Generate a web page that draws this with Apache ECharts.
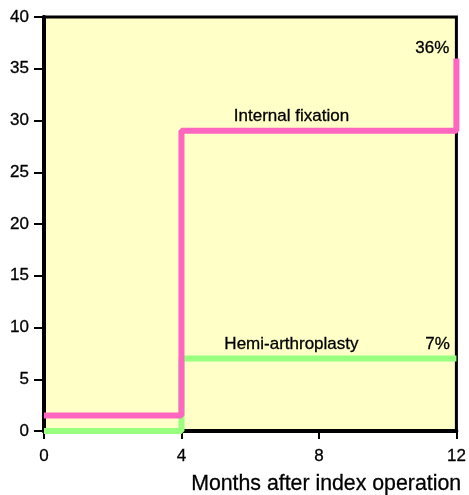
<!DOCTYPE html>
<html><head><meta charset="utf-8">
<script src="https://cdn.jsdelivr.net/npm/echarts@6/dist/echarts.min.js"></script>
<style>html,body{margin:0;padding:0;background:#fff}#c{width:469px;height:495px}</style>
</head><body><div id="c"></div>
<script>
const xTicks = [0, 4, 8, 12];
const yTicks = [0, 5, 10, 15, 20, 25, 30, 35, 40];
const fixMonths = [0, 4, 12];
const fixValues = [1.5, 29, 36];
const hemiMonths = [0, 4, 12];
const hemiValues = [0, 7, 7];
const xTitle = 'Months after index operation';
const fixLabel = 'Internal fixation';
const hemiLabel = 'Hemi-arthroplasty';
const fixEnd = '36%';
const hemiEnd = '7%';

const font = 'Liberation Sans, Arial, Helvetica, sans-serif';
const chart = echarts.init(document.getElementById('c'));
const labelStyle = {show: true, color: '#000', fontFamily: font, fontSize: 17, textBorderColor: '#000', textBorderWidth: 0.3};
const axisLab = {color: '#000', fontFamily: font, fontSize: 17, textBorderColor: '#000', textBorderWidth: 0.3};
chart.setOption({
  animation: false,
  grid: {left: 44, right: 9, top: 17, bottom: 64, show: true, backgroundColor: '#ffffc8', borderColor: '#000', borderWidth: 3},
  xAxis: {
    type: 'value', min: 0, max: 12, interval: 4,
    axisLine: {show: true, lineStyle: {color: '#000', width: 4}},
    axisTick: {show: true, length: 8, lineStyle: {color: '#000', width: 2}},
    axisLabel: Object.assign({margin: 17}, axisLab),
    splitLine: {show: false}
  },
  yAxis: {
    type: 'value', min: 0, max: 40, interval: 5,
    axisLine: {show: true, lineStyle: {color: '#000', width: 4}},
    axisTick: {show: true, length: 10, lineStyle: {color: '#000', width: 2}},
    axisLabel: Object.assign({margin: 15}, axisLab),
    splitLine: {show: false}
  },
  graphic: [{type: 'text', left: 191, top: 473, style: {text: xTitle, fill: '#000', font: '21.3px ' + font, stroke: '#000', lineWidth: 0.3}}],
  series: [
    {
      type: 'line', step: 'end', symbol: 'none', z: 3,
      data: hemiMonths.map((m, i) => [m, hemiValues[i]]),
      lineStyle: {color: '#99ff7f', width: 6, cap: 'butt'},
      markPoint: {symbol: 'circle', symbolSize: 0, data: [
        {coord: [7.2, 7], label: Object.assign({}, labelStyle, {formatter: hemiLabel, offset: [0, -14]})},
        {coord: [11.45, 7], label: Object.assign({}, labelStyle, {formatter: hemiEnd, offset: [0, -14]})}
      ]}
    },
    {
      type: 'line', step: 'end', symbol: 'none', z: 4,
      data: fixMonths.map((m, i) => [m, fixValues[i]]),
      lineStyle: {color: '#ff66bf', width: 6, cap: 'butt'},
      markPoint: {symbol: 'circle', symbolSize: 0, data: [
        {coord: [7.2, 29], label: Object.assign({}, labelStyle, {formatter: fixLabel, offset: [0, -15]})},
        {coord: [11.3, 36], label: Object.assign({}, labelStyle, {formatter: fixEnd, offset: [0, -10]})}
      ]}
    }
  ]
});
</script></body></html>
